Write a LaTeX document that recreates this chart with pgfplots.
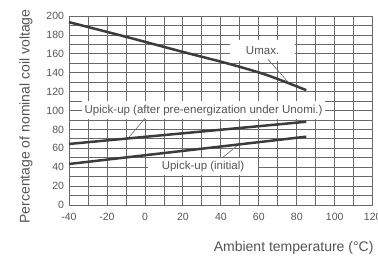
\documentclass[border=0pt]{standalone}
\usepackage{fontspec}
\setmainfont{Liberation Sans}
\usepackage{pgfplots}
\pgfplotsset{compat=1.18}
\definecolor{txt}{RGB}{85,85,85}
\definecolor{gridc}{RGB}{105,105,105}
\definecolor{ln}{RGB}{60,60,60}
\begin{document}
\begin{tikzpicture}[x=1pt,y=1pt]
\path[use as bounding box] (-69,-50) rectangle (309,205);
\begin{axis}[
 at={(0,0)}, anchor=south west,
 scale only axis, width=303.7pt, height=189pt,
 xmin=-40, xmax=120, ymin=0, ymax=200,
 xtick={-40,-20,...,120}, ytick={0,20,...,200},
 minor xtick={-30,-10,...,110}, minor ytick={10,30,...,190},
 grid=both,
 grid style={draw=gridc, line width=0.8pt},
 minor grid style={draw=gridc, line width=0.8pt},
 axis line style={draw=gridc, line width=0.8pt},
 major tick length=0pt, minor tick length=0pt,
 tick label style={font=\fontsize{10.5}{12}\selectfont, text=txt},
 /pgf/number format/assume math mode=true,
 xticklabel style={yshift=-5pt},
 yticklabel style={xshift=-1.5pt},
 clip=false,
]
\node[fill=white, inner sep=0pt, minimum width=65pt, minimum height=21pt,
  font=\fontsize{11.5}{13}\selectfont, text=txt] at (axis cs:62,163.5) {Umax.};
\node[fill=white, inner xsep=2.5pt, inner ysep=0pt, minimum height=18pt,
  font=\fontsize{11.5}{13}\selectfont, text=txt] at (axis cs:30.9,100.5) {Upick-up (after pre-energization under Unomi.)};
\node[fill=white, inner sep=0pt, minimum width=110pt, minimum height=17pt,
  font=\fontsize{11.5}{13}\selectfont, text=txt] at (axis cs:30.6,40.7) {Upick-up (initial)};
% leader lines
\addplot[gridc, line width=0.6pt] coordinates {(64.7,154.4) (75.8,129.2)};
\addplot[gridc, line width=0.6pt] coordinates {(0,91.7) (-8.8,70.7)};
\addplot[gridc, line width=0.6pt] coordinates {(40.5,49.5) (48.7,63)};
% series
\addplot[ln, line width=2.5pt, smooth] coordinates {(-40,193.5) (-10,178) (20,162) (45,149) (65,137) (85,121.5)};
\addplot[ln, line width=2.5pt] coordinates {(-40,64.6) (85,88.1)};
\addplot[ln, line width=2.5pt] coordinates {(-40,43.4) (85,72.3)};
\end{axis}
\node[anchor=east, font=\fontsize{14}{16}\selectfont, text=txt] at (308,-43) {Ambient temperature (°C)};
\node[rotate=90, font=\fontsize{14}{16}\selectfont, text=txt] at (-43,88.5) {Percentage of nominal coil voltage};
\end{tikzpicture}
\end{document}
